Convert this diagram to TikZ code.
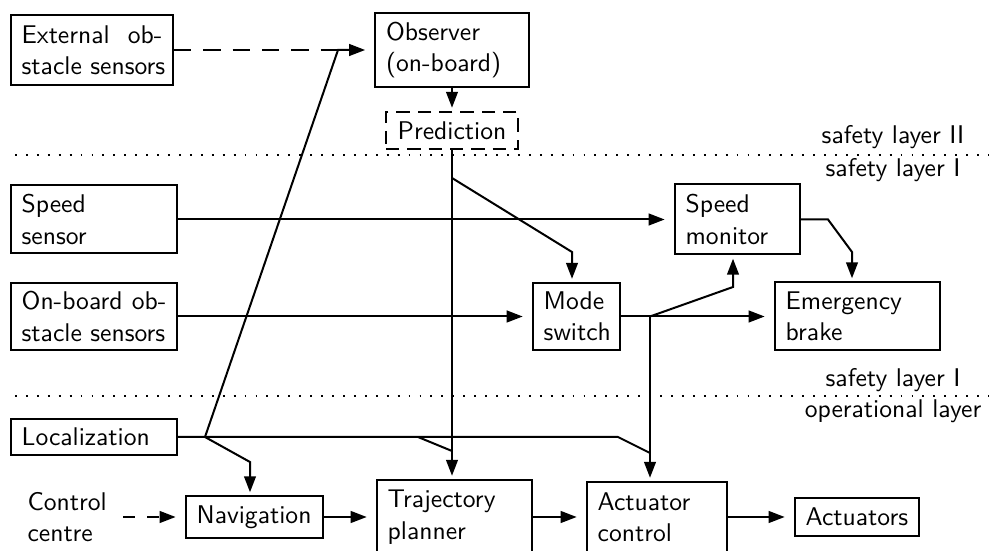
\documentclass[tikz,border=0pt]{standalone}
\usetikzlibrary{arrows.meta}
\begin{document}
\begin{tikzpicture}[x=0.375pt,y=-0.375pt,
  box/.style={draw, line width=0.75pt, inner xsep=4pt, inner ysep=2pt, align=left, font=\fontsize{9.6pt}{11.8pt}\sffamily},
  lbl/.style={font=\fontsize{9.6pt}{11.8pt}\sffamily, inner sep=0pt},
  ln/.style={line width=0.75pt},
  arr/.style={line width=0.75pt, -{Triangle[length=6pt,width=4.4pt]}},
  dsh/.style={dash pattern=on 6.5pt off 4.5pt},
  dshs/.style={dash pattern=on 4.5pt off 4.5pt},
  hgap/.style={shorten >=3.5pt},
  vgap/.style={shorten >=1.2pt},
  dotline/.style={line width=0.7pt, dash pattern=on 0.7pt off 3.4pt}]
\useasboundingbox (0,0) rectangle (989,551);
\clip (0,0) rectangle (989,551);

% boxes
\node[box, text width=52.75pt, minimum height=26.25pt] (ext) at (92,50) {External\hfill ob-\\\mbox{stacle sensors}};
\node[box, text width=49.4pt, minimum height=27.75pt] (obs) at (452,50) {Observer\\(on-board)};
\node[box, align=center, dash pattern=on 5pt off 3pt, minimum width=49.5pt, minimum height=13.9pt] (pred) at (452,130.5) {Prediction};
\node[box, text width=54.25pt, minimum height=25.5pt] (spsens) at (94,219.5) {Speed\\sensor};
\node[box, text width=38.9pt, minimum height=26.25pt] (spmon) at (737.5,219.5) {Speed\\monitor};
\node[box, text width=54.25pt, minimum height=25.1pt] (obsens) at (94,316.5) {On-board\hfill ob-\\\mbox{stacle sensors}};
\node[box, text width=24.6pt, minimum height=25.1pt] (mode) at (576.5,316.5) {Mode\\switch};
\node[box, text width=53.9pt, minimum height=25.5pt] (ebrake) at (857.5,316.5) {Emergency\\brake};
\node[box, text width=54.25pt, minimum height=13.5pt] (loc) at (94,437) {Localization};
\node[lbl, align=left, anchor=west] (ctrl) at (27,517) {Control\\centre};
\node[box, text width=43.4pt, minimum height=15.4pt] (nav) at (254.5,517) {Navigation};
\node[box, text width=50.1pt, minimum height=27.75pt] (traj) at (454.5,517) {Trajectory\\planner};
\node[box, text width=44.5pt, minimum height=26.25pt] (act) at (657,517) {Actuator\\control};
\node[box, text width=38.5pt, minimum height=14.25pt] (acts) at (857,517) {Actuators};

% layer separators and labels
\coordinate (d1a) at (15,155); \coordinate (d1b) at (989,155);
\coordinate (d2a) at (15,396); \coordinate (d2b) at (989,396);
\draw[dotline] (d1a) -- (d1b);
\draw[dotline] (d2a) -- (d2b);
\node[lbl] (l1) at (893,137) {safety layer II};
\node[lbl] (l2) at (893,170) {safety layer I};
\node[lbl] (l3) at (893,380) {safety layer I};
\node[lbl] (l4) at (893,411) {operational layer};

% junction coordinates
\coordinate (jtop) at (338,50);
\coordinate (jloc) at (205,437);
\coordinate (navk) at (250,462);
\coordinate (pm1) at (452,178);
\coordinate (pm2) at (572,252);
\coordinate (lt1) at (418,437);
\coordinate (lt2) at (452,451);
\coordinate (la1) at (618,437);
\coordinate (la2) at (650,453);
\coordinate (mj) at (650,316.5);
\coordinate (ms1) at (733,287);
\coordinate (se1) at (828,219.5);
\coordinate (se2) at (852,252);

% connectors
\draw[ln, dsh] (ext.east) -- (jtop);
\draw[arr, hgap] (loc.east) -- (jloc) -- (jtop) -- (obs.west);
\draw[arr, vgap] (jloc) -- (navk) -- (navk |- nav.north);
\draw[arr, vgap] (obs.south) -- (pred.north);
\draw[arr, vgap] (pred.south) -- (pred.south |- traj.north);
\draw[arr, vgap] (pm1) -- (pm2) -- (pm2 |- mode.north);
\draw[ln] (lt1) -- (lt2);
\draw[ln] (jloc) -- (la1) -- (la2);
\draw[arr, hgap] (spsens.east) -- (spmon.west);
\draw[arr, hgap] (obsens.east) -- (mode.west);
\draw[arr, hgap] (mode.east) -- (ebrake.west);
\draw[arr, vgap] (mj) -- (ms1) -- (ms1 |- spmon.south);
\draw[arr, vgap] (mj) -- (mj |- act.north);
\draw[arr, vgap] (spmon.east) -- (se1) -- (se2) -- (se2 |- ebrake.north);
\draw[arr, dshs, hgap, shorten <=6pt] (ctrl.east) -- (nav.west);
\draw[arr, hgap] (nav.east) -- (traj.west);
\draw[arr, hgap] (traj.east) -- (act.west);
\draw[arr, hgap] (act.east) -- (acts.west);
\end{tikzpicture}
\end{document}
